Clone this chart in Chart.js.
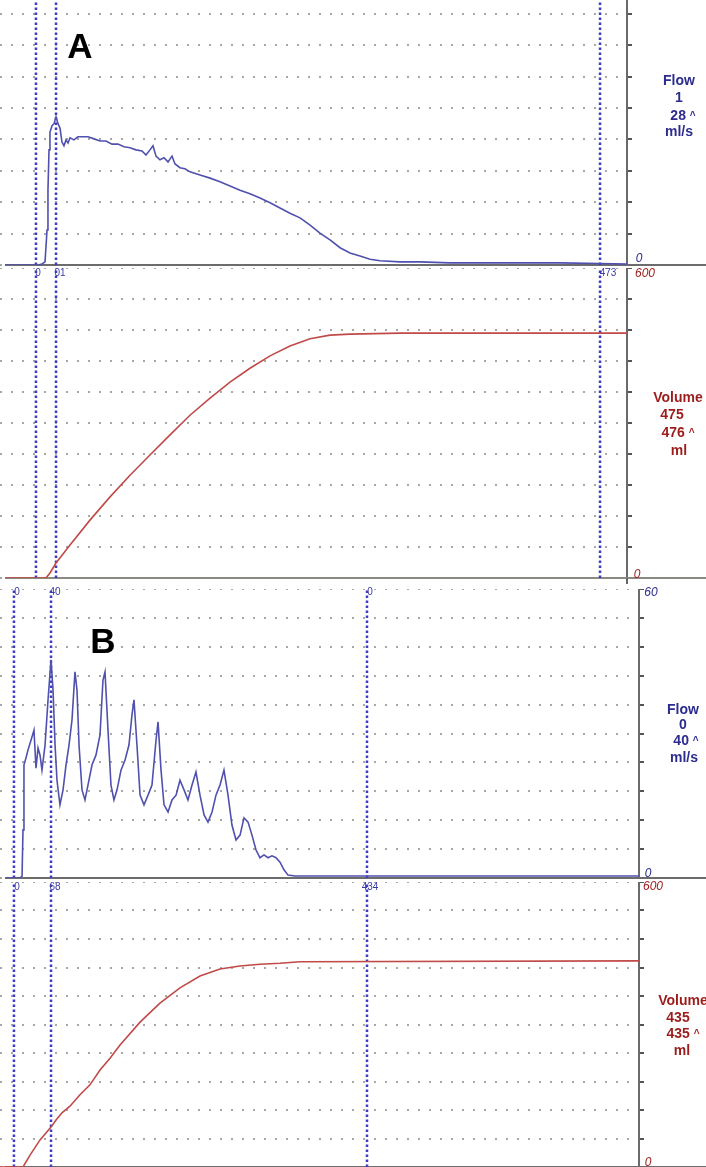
<!DOCTYPE html>
<html><head><meta charset="utf-8">
<script src="https://cdn.jsdelivr.net/npm/chart.js@4.4.1/dist/chart.umd.min.js"></script>
<style>
html,body{margin:0;padding:0;background:#fff;}
#wrap{position:relative;width:706px;height:1167px;overflow:hidden;background:#fff;font-family:"Liberation Sans",Arial,sans-serif;}
canvas{position:absolute;left:0;}
.t{position:absolute;transform:translate(-50%,-50%);white-space:pre;line-height:1;}
.big{font-weight:bold;font-size:35px;color:#000;}
.side{font-weight:bold;font-size:14px;}
.tick{font-style:italic;font-size:12px;}
.cur{font-size:10px;color:#3a3aa8;}
.blue{color:#2c2c8e;}
.red{color:#9c1c1c;}
.car{font-size:10px;position:relative;top:-1px;}
</style></head><body><div id="wrap"></div>
<script>
// ---------- DATA (time in s, flow in ml/s, volume in ml) ----------
const flowA_t = [0.48,3.64,4.02,4.31,4.50,4.59,4.69,4.78,4.98,5.17,5.36,5.55,5.74,5.93,6.12,6.32,6.51,6.70,7.08,7.46,7.85,8.42,9.00,9.57,10.14,10.72,11.29,11.87,12.44,13.01,13.59,13.97,14.35,14.64,14.93,15.31,15.69,16.08,16.46,16.75,17.22,17.70,18.18,19.14,20.10,21.05,22.01,22.97,23.92,24.88,25.84,26.79,27.75,28.71,29.67,30.62,31.58,32.54,33.49,34.45,35.41,36.36,38.28,40.19,43.06,47.85,53.59,60];
const flowA_v = [0,0,0.2,0.6,6.7,14.3,22.0,25.4,26.6,27.0,28.3,27.0,26.2,23.5,22.8,23.9,23.3,24.3,23.9,24.5,24.5,24.5,24.1,23.7,23.7,23.1,23.1,22.6,22.4,22.0,21.8,21.0,22.0,22.8,20.8,20.1,20.5,19.7,20.8,19.3,18.6,18.4,17.8,17.2,16.6,15.9,15.1,14.3,13.6,12.8,11.9,10.9,9.9,9.0,7.6,6.1,4.8,3.3,2.3,1.7,1.1,0.8,0.6,0.6,0.4,0.4,0.4,0.2];

const volA_t = [0.48,4.40,4.78,5.36,6.70,8.61,10.53,12.44,14.35,16.27,18.18,20.10,22.01,23.92,25.84,27.75,29.67,31.58,33.49,38.28,60];
const volA_v = [0,0,9.7,29,64,112,157,199,238,277,315,348,379,406,430,449,463,470,472,474,474];

const flowB_t = [0.47,1.88,2.07,2.16,2.25,2.44,2.63,2.91,3.19,3.38,3.57,3.76,3.94,4.23,4.51,4.79,4.98,5.17,5.35,5.63,5.92,6.20,6.48,6.76,7.04,7.23,7.42,7.70,7.98,8.26,8.64,9.01,9.39,9.67,9.86,10.14,10.42,10.70,10.99,11.36,11.74,12.11,12.39,12.58,12.86,13.15,13.52,13.90,14.27,14.65,14.84,15.12,15.40,15.78,16.15,16.53,16.90,17.28,17.65,18.03,18.40,18.78,19.16,19.53,19.91,20.28,20.66,21.03,21.41,21.78,22.16,22.54,22.91,23.29,23.66,24.04,24.41,24.79,25.17,25.54,25.92,26.29,26.67,27.04,27.70,30.05,33.80,37.56,46.95,56.34,60];
const flowB_v = [0,0,0.4,10.0,23.5,24.9,26.6,28.6,30.7,22.8,27.0,25.5,22.4,27.6,37.0,45.3,39.0,27.6,20.3,15.2,18.3,23.5,27.6,32.8,42.8,39.0,27.6,18.3,16.2,19.3,23.5,25.5,29.7,41.1,42.8,30.7,19.3,16.2,18.3,22.4,24.5,27.6,33.8,37.0,27.6,17.2,15.2,17.2,19.3,28.6,32.4,22.4,15.2,13.7,16.2,17.2,20.3,18.3,16.2,19.3,22.0,17.2,13.1,11.6,13.7,17.2,19.3,22.4,17.2,11.0,7.9,8.9,12.5,11.6,8.9,5.8,4.2,4.8,4.2,4.6,4.2,3.3,1.7,0.6,0.4,0.4,0.4,0.4,0.4,0.4,0.4];

const volB_t = [0,2.16,2.82,3.76,4.79,5.26,5.82,6.57,7.51,8.45,9.39,10.33,11.27,13.15,15.02,16.90,18.78,20.66,22.54,24.41,26.29,28.17,60];
const volB_v = [0,0,25,57,84,99,114,128,152,173,204,229,257,305,345,377,402,417,423,427,429,432,434];

const cursorsA_t = [3.44, 5.36, 57.42];
const cursorsB_t = [1.31, 4.79, 34.46];
const cursorsA_lbl = ['0','01','473'];
const cursorsB_top_lbl = ['0','40','0'];
const cursorsB_bot_lbl = ['0','68','434'];

const flowMax = 60, flowStep = 6;
const volMax = 600, volStep = 60;
const timeMax = 60;

// ---------- DRAWING ----------
const wrap = document.getElementById('wrap');
const W = 706;
const FLOW_COL = '#5050ae', VOL_COL = '#c04a48', CUR_COL = '#3c3cc4';

const axisExt = {
  id: 'axisExt',
  beforeDatasetsDraw(chart, args, o) {
    if (!o || !o.on) return;
    const ctx = chart.ctx, y = chart.scales.y.getPixelForValue(0);
    ctx.save();
    ctx.strokeStyle = o.color; ctx.lineWidth = 2;
    ctx.beginPath(); ctx.moveTo(o.x0, y); ctx.lineTo(chart.width, y); ctx.stroke();
    if (o.down) {
      const x = chart.chartArea.right;
      ctx.strokeStyle = '#666';
      ctx.beginPath(); ctx.moveTo(x, chart.chartArea.bottom); ctx.lineTo(x, chart.chartArea.bottom + o.down); ctx.stroke();
    }
    ctx.restore();
  }
};

function panel(cfg) {
  const cv = document.createElement('canvas');
  const padB = 10;
  cv.width = W; cv.height = cfg.areaH + padB;
  cv.style.top = cfg.top + 'px';
  cv.style.width = W + 'px'; cv.style.height = (cfg.areaH + padB) + 'px';
  wrap.appendChild(cv);
  const datasets = [{
    data: cfg.t.map((x, i) => ({x, y: cfg.v[i]})),
    borderColor: cfg.color, borderWidth: 1.6, pointRadius: 0, tension: 0, fill: false
  }];
  cfg.cursors.forEach(c => datasets.push({
    data: [{x: c, y: 0}, {x: c, y: cfg.yMax}],
    borderColor: CUR_COL, borderWidth: 2.5, borderDash: [2.5, 2.5], pointRadius: 0, clip: false
  }));
  new Chart(cv, {
    type: 'line',
    data: {datasets},
    options: {
      responsive: false, animation: false, devicePixelRatio: 1,
      layout: {padding: {left: 0, top: 0, bottom: padB, right: W - cfg.right - 6}},
      plugins: {legend: {display: false}, tooltip: {enabled: false},
        axisExt: {on: true, color: cfg.axisColor || '#6c6c6c', x0: 5, down: cfg.down || 0}},
      scales: {
        x: {type: 'linear', min: 0, max: timeMax, display: false},
        y: {
          type: 'linear', position: 'right', min: 0, max: cfg.yMax,
          afterFit: s => { s.width = 6; },
          ticks: {display: false, stepSize: cfg.yStep},
          grid: {color: '#a8a8a8', lineWidth: 2, drawTicks: true, tickLength: 5, tickColor: '#555', tickWidth: 2, tickBorderDash: []},
          border: {display: true, color: '#6a6a6a', width: 2, dash: [2, 9], dashOffset: 0}
        }
      }
    },
    plugins: [axisExt]
  });
}

// Panel A
panel({top: -49, areaH: 314, right: 627, yMax: flowMax, yStep: flowStep, t: flowA_t, v: flowA_v, color: FLOW_COL, cursors: cursorsA_t});
panel({top: 268, areaH: 310, right: 627, yMax: volMax, yStep: volStep, t: volA_t, v: volA_v, color: VOL_COL, cursors: cursorsA_t, down: 6, axisColor: '#8a8a80'});
// Panel B
panel({top: 589, areaH: 289, right: 639, yMax: flowMax, yStep: flowStep, t: flowB_t, v: flowB_v, color: FLOW_COL, cursors: cursorsB_t});
panel({top: 882, areaH: 285, right: 639, yMax: volMax, yStep: volStep, t: volB_t, v: volB_v, color: VOL_COL, cursors: cursorsB_t});

// ---------- TEXT ----------
function txt(s, x, y, cls, html) {
  const d = document.createElement('div');
  d.className = 't ' + cls;
  if (html) d.innerHTML = s; else d.textContent = s;
  d.style.left = x + 'px'; d.style.top = y + 'px';
  wrap.appendChild(d);
}
txt('A', 80, 45, 'big');
txt('B', 103, 640, 'big');

txt('Flow', 679, 80, 'side blue');
txt('1', 679, 97, 'side blue');
txt('28 <span class="car">^</span>', 683, 115, 'side blue', true);
txt('ml/s', 679, 131, 'side blue');

txt('Volume', 678, 397, 'side red');
txt('475', 672, 414, 'side red');
txt('476 <span class="car">^</span>', 678, 432, 'side red', true);
txt('ml', 679, 450, 'side red');

txt('Flow', 683, 709, 'side blue');
txt('0', 683, 724, 'side blue');
txt('40 <span class="car">^</span>', 686, 740, 'side blue', true);
txt('ml/s', 684, 757, 'side blue');

txt('Volume', 683, 1000, 'side red');
txt('435', 678, 1017, 'side red');
txt('435 <span class="car">^</span>', 683, 1033, 'side red', true);
txt('ml', 682, 1050, 'side red');

// axis end labels
txt('0', 639, 258, 'tick blue');
txt('600', 645, 273, 'tick red');
txt('0', 637, 574, 'tick red');
txt('60', 651, 592, 'tick blue');
txt('0', 648, 873, 'tick blue');
txt('600', 653, 886, 'tick red');
txt('0', 648, 1162, 'tick red');

// cursor labels
const cxA = [38, 60, 608];
cursorsA_lbl.forEach((s, i) => txt(s, cxA[i], 273, 'cur'));
const cxB = [17, 55, 370];
cursorsB_top_lbl.forEach((s, i) => txt(s, cxB[i], 592, 'cur'));
cursorsB_bot_lbl.forEach((s, i) => txt(s, cxB[i], 887, 'cur'));
</script>
</body></html>
